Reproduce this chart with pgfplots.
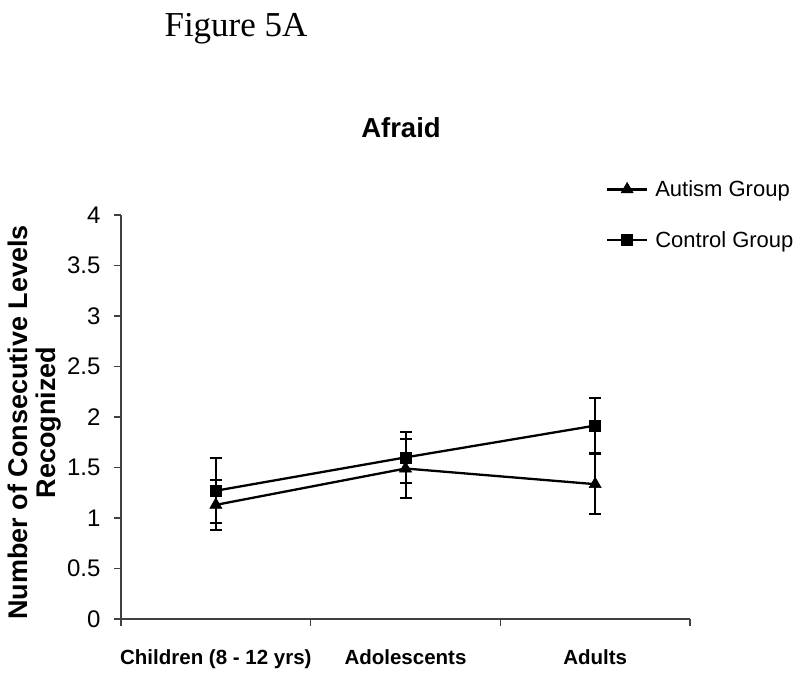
\documentclass[border=0pt]{standalone}
\usepackage{fontspec}
\setmainfont{Liberation Sans}
\newfontfamily\timesfont{Liberation Serif}
\usepackage{pgfplots}
\pgfplotsset{compat=1.18}
\begin{document}
\begin{tikzpicture}[x=1pt,y=1pt]
\useasboundingbox (-121,-58) rectangle (679,619);
\begin{axis}[
  scale only axis,
  width=569pt, height=404pt,
  anchor=south west,
  at={(0,0)},
  xmin=-0.5, xmax=2.5,
  ymin=0, ymax=4,
  axis x line=bottom, axis y line=left,
  axis line style={-, line width=1.4pt, color=black!75},
  xtick={0,1,2},
  xticklabels={Children (8 - 12 yrs),Adolescents,Adults},
  major x tick style={draw=none},
  minor xtick={-0.5,0.5,1.5,2.5},
  minor x tick style={line width=1.4pt, color=black!75},
  minor tick length=7pt,
  ytick={0,0.5,1,1.5,2,2.5,3,3.5,4},
  yticklabels={0,0.5,1,1.5,2,2.5,3,3.5,4},
  y tick style={line width=1.4pt, color=black!75},
  major tick length=7pt,
  tick align=outside,
  x tick label style={font=\fontsize{20.5}{24}\selectfont\bfseries, yshift=-20pt},
  y tick label style={font=\fontsize{24}{28}\selectfont, xshift=-10pt},
  /pgf/number format/assume math mode=true,
  ylabel={Number of Consecutive Levels\\Recognized},
  every axis y label/.style={at={(axis description cs:-0.152,0.4864)}, rotate=90, anchor=center, align=center, font=\fontsize{27}{28.5}\selectfont\bfseries},
  legend style={draw=none, fill=none, at={(axis description cs:0.852,1.088)}, anchor=north west,
    font=\fontsize{22}{26}\selectfont, row sep=31pt, inner sep=0pt,
    nodes={inner sep=1pt}},
  legend cell align=left,
  legend image code/.code={\draw[#1, mark repeat=2, mark phase=2] plot coordinates {(0pt,0pt) (20pt,0pt) (40pt,0pt)}; \path (46pt,0pt);},
  clip=false,
]
\addplot[black, line width=2.3pt, mark=triangle*, mark size=7pt, mark options={solid, line width=0.5pt},
  error bars/.cd, y dir=both, y explicit,
  error bar style={line width=2pt, black},
  error mark options={rotate=90, mark size=6pt, line width=2pt, black}]
  coordinates {(0,1.13) +- (0,0.25) (1,1.49) +- (0,0.29) (2,1.335) +- (0,0.295)};
\addlegendentry{Autism Group}
\addplot[black, line width=2.3pt, mark=square*, mark size=5.5pt, mark options={solid, line width=0.5pt},
  error bars/.cd, y dir=both, y explicit,
  error bar style={line width=2pt, black},
  error mark options={rotate=90, mark size=6pt, line width=2pt, black}]
  coordinates {(0,1.27) +- (0,0.32) (1,1.60) +- (0,0.25) (2,1.915) +- (0,0.275)};
\addlegendentry{Control Group}
\end{axis}
\node[font=\fontsize{27.5}{32}\selectfont\bfseries] at (280,491) {Afraid};
\node[font=\timesfont\fontsize{35}{40}\selectfont] at (115,590) {Figure 5A};
\end{tikzpicture}
\end{document}
